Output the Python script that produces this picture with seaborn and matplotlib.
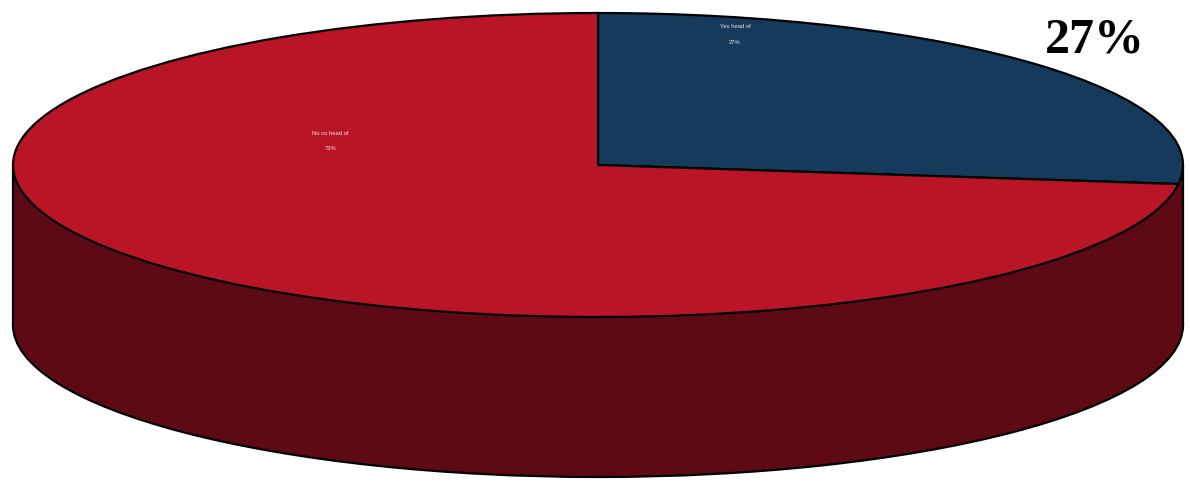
import matplotlib
matplotlib.use("Agg")
import matplotlib.pyplot as plt
import seaborn as sns

labels = ["Yes head of", "No co head of"]
shares = [27, 73]
pct_labels = ["27%", "73%"]
big_label = "27%"

sns.set_theme(style="white")
top_colors = sns.color_palette(["#163A5C", "#BA1527"])
side_color = "#5E0A14"

fig, ax = plt.subplots(figsize=(11.9, 4.84), dpi=100)
fig.subplots_adjust(left=0, right=1, top=1, bottom=0)

depth = 160 / 152  # wall height, in units of the ellipse's short radius

# side wall first: lower disc plus the band up to the top face
ax.pie([sum(shares)], startangle=90, center=(0, -depth), colors=[side_color],
       wedgeprops={"edgecolor": "black", "linewidth": 1.6})
ax.fill_between([-1, 1], -depth, 0, color=side_color, linewidth=0)
ax.vlines([-1, 1], -depth, 0, color="black", linewidth=1.6)

# top face
ax.pie(shares, startangle=90, counterclock=False, colors=top_colors,
       wedgeprops={"edgecolor": "black", "linewidth": 1.6})

# pie forces equal aspect, the squashed look needs it off
ax.set_aspect("auto")
ax.set_xlim(-598 / 585, 592 / 585)
ax.set_ylim(-319 / 152, 165 / 152)
ax.axis("off")

small = {"family": "Liberation Sans", "fontsize": 4.2, "color": "#F0E4E4",
         "ha": "center", "va": "center"}
ax.text(0.234, 0.908, labels[0], **small)
ax.text(0.234, 0.805, pct_labels[0], **small)
ax.text(-0.457, 0.21, labels[1], **small)
ax.text(-0.457, 0.11, pct_labels[1], **small)

ax.text(0.85, 0.82, big_label, family="Liberation Serif", fontweight="bold",
        fontsize=36, color="black", ha="center", va="center")

fig.savefig("out.png", dpi=100)
